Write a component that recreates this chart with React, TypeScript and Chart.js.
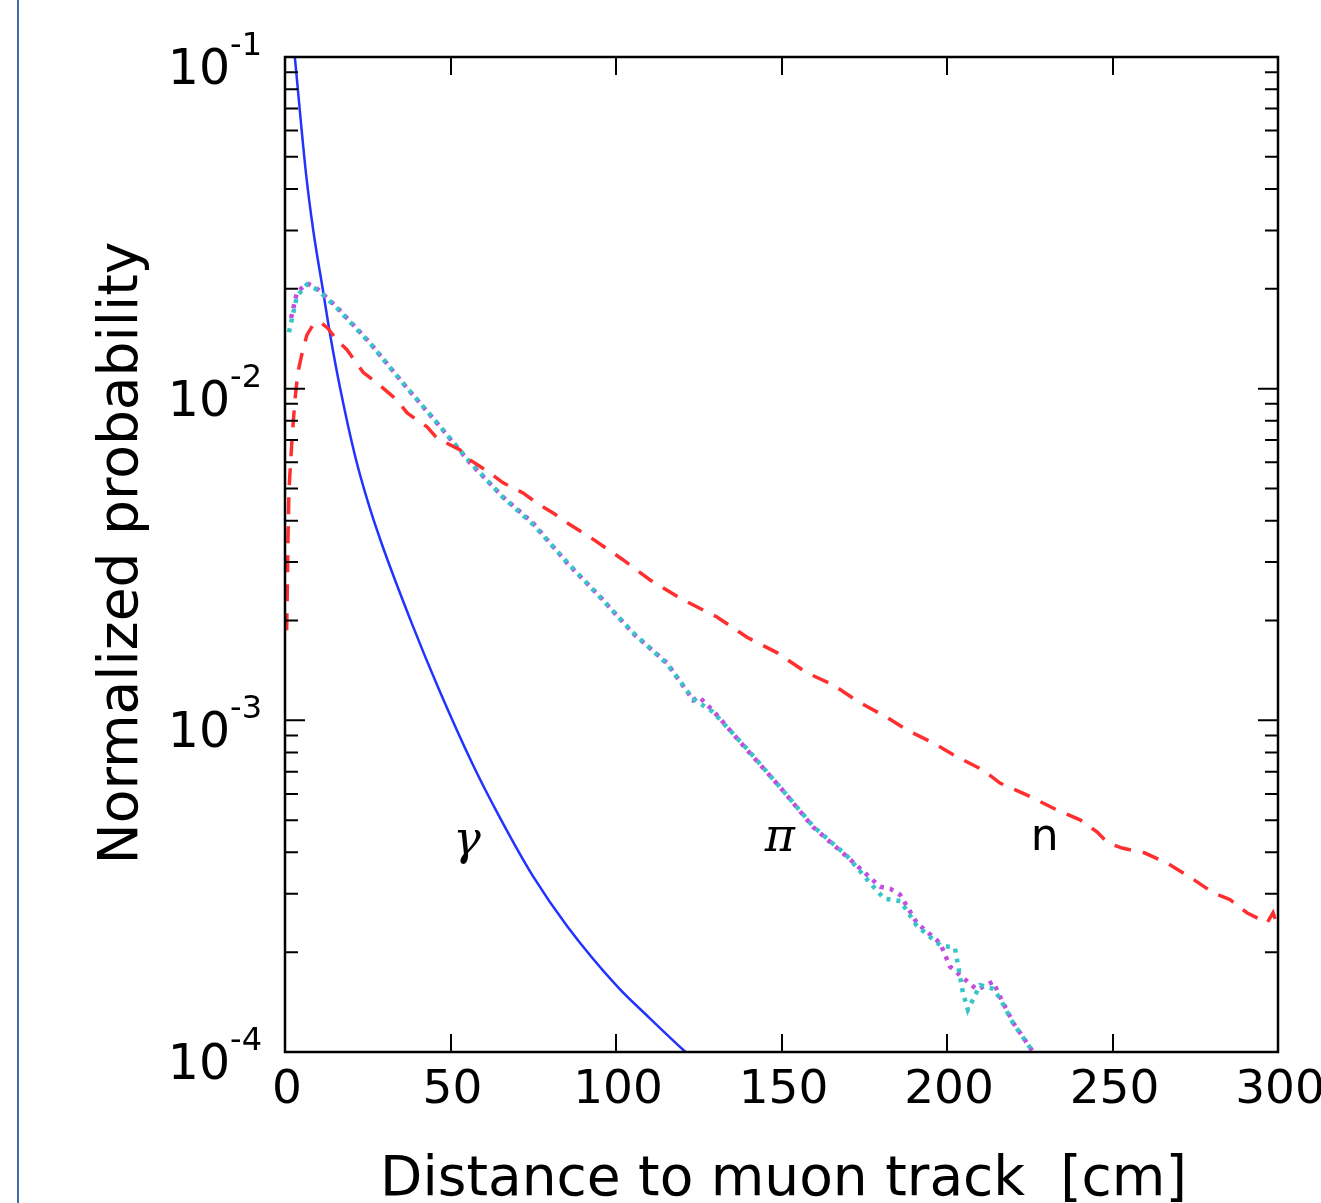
import React, { useEffect, useRef } from 'react';
import { Chart, registerables } from 'chart.js';

Chart.register(...registerables);

// ---- data ----
const gammaX = [1, 3, 6.3, 8.5, 11.5, 13.6, 16.6, 21.1, 25, 29.3, 38.4, 46.2, 56.8, 65, 74.9, 85.2, 100.3, 110, 121, 124];
const gammaY = [0.16, 0.0993, 0.045, 0.0302, 0.0197, 0.01462, 0.0101, 0.00631, 0.00457, 0.00339, 0.00195, 0.00126, 0.000733, 0.000507, 0.000339, 0.00024, 0.000158, 0.000127, 0.0001, 0.000094];

const piMagX = [1.5, 3.6, 6.6, 10, 15.7, 25.7, 35.6, 45.9, 55.9, 65.9, 74.9, 85.2, 95.2, 105.1, 115.4, 123.3, 125, 129.3, 139.6, 149.5, 159.5, 169.8, 179.8, 183, 185.8, 190.9, 197.9, 200.9, 209.1, 213.9, 216, 219.9, 226];
const piMagY = [0.0158, 0.0195, 0.0208, 0.0199, 0.0176, 0.01374, 0.0104, 0.00788, 0.00597, 0.00471, 0.00394, 0.00298, 0.00236, 0.00183, 0.00149, 0.00115, 0.00118, 0.00107, 0.000814, 0.00063, 0.000477, 0.000388, 0.000315, 0.00031, 0.000298, 0.000245, 0.000213, 0.000181, 0.000154, 0.000163, 0.000147, 0.000123, 0.0001];

const piCyanX = [1.2, 3.6, 6.6, 10, 15.7, 25.7, 35.6, 45.9, 55.9, 65.9, 74.9, 85.2, 95.2, 105.1, 115.4, 123.3, 129.3, 139.6, 149.5, 159.5, 169.8, 176, 181, 186, 190.9, 197.9, 202.4, 204.8, 206.3, 210, 214, 216, 220, 226];
const piCyanY = [0.0148, 0.019, 0.0206, 0.0198, 0.0175, 0.0137, 0.0104, 0.0079, 0.006, 0.0047, 0.0039, 0.003, 0.00235, 0.00184, 0.00148, 0.00116, 0.00106, 0.00082, 0.00063, 0.00048, 0.00039, 0.00033, 0.00029, 0.000285, 0.00024, 0.00021, 0.000206, 0.000151, 0.000134, 0.000159, 0.000155, 0.000145, 0.000122, 0.0001];

const neutronX = [0.5, 0.7, 0.9, 1.2, 2.1, 3.0, 3.9, 5.1, 6.6, 8.5, 10.6, 13, 15.7, 18.7, 23.6, 27.8, 33.8, 36.9, 42.9, 45.9, 52.9, 55.9, 61.9, 65.9, 71.9, 76.1, 81, 85.2, 92.1, 102.1, 110.3, 120.2, 130.5, 139.6, 148.6, 157.7, 165.6, 173.1, 181.9, 187.9, 195.8, 203, 210.9, 216, 224.2, 232, 240.2, 245.3, 248.6, 252.9, 259.8, 266.5, 273.4, 280.4, 285.5, 290.6, 296.7, 298.5, 300.3];
const neutronY = [0.00187, 0.00247, 0.0035, 0.00495, 0.007, 0.00925, 0.0112, 0.0127, 0.0145, 0.0156, 0.0159, 0.0152, 0.014, 0.0131, 0.0112, 0.0104, 0.00925, 0.00845, 0.00767, 0.0071, 0.00653, 0.0061, 0.00557, 0.0052, 0.00485, 0.00452, 0.00422, 0.00394, 0.00357, 0.00305, 0.00265, 0.00231, 0.00205, 0.00178, 0.0016, 0.00139, 0.00128, 0.00114, 0.00102, 0.000935, 0.000855, 0.000776, 0.000708, 0.000647, 0.000595, 0.000544, 0.000501, 0.000461, 0.000427, 0.000412, 0.000398, 0.000371, 0.000337, 0.000302, 0.000288, 0.000263, 0.000245, 0.000263, 0.000233];

const xTickValues = [0, 50, 100, 150, 200, 250, 300];
const yMajorExponents = [-1, -2, -3, -4];
const curveLabels = ['γ', 'π', 'n'];
const curveLabelX = [55, 149.5, 229.5];
const curveLabelY = [0.00043, 0.00044, 0.00044];

const xTitle = 'Distance to muon track  [cm]';
const yTitle = 'Normalized probability';

function pts(xs: number[], ys: number[]) {
  return xs.map((x, i) => ({ x, y: ys[i] }));
}

const decorPlugin = {
  id: 'decor',
  afterDraw(chart: any) {
    const { ctx, chartArea: a, scales } = chart;
    const xs = scales.x;
    const ys = scales.y;
    ctx.save();
    ctx.strokeStyle = '#000';
    ctx.fillStyle = '#000';
    ctx.lineWidth = 2.5;
    ctx.lineCap = 'butt';
    ctx.setLineDash([]);
    // frame
    ctx.strokeRect(a.left, a.top, a.right - a.left, a.bottom - a.top);

    ctx.lineWidth = 2;
    const majorLen = 18;
    const minorLen = 13;
    // x major ticks, inward top and bottom
    xTickValues.forEach((v) => {
      const px = Math.round(xs.getPixelForValue(v));
      ctx.beginPath();
      ctx.moveTo(px, a.bottom);
      ctx.lineTo(px, a.bottom - majorLen);
      ctx.moveTo(px, a.top);
      ctx.lineTo(px, a.top + majorLen);
      ctx.stroke();
    });
    // y major ticks
    yMajorExponents.forEach((e) => {
      const py = ys.getPixelForValue(Math.pow(10, e));
      ctx.beginPath();
      ctx.moveTo(a.left, py);
      ctx.lineTo(a.left + majorLen + 2, py);
      ctx.moveTo(a.right, py);
      ctx.lineTo(a.right - majorLen - 2, py);
      ctx.stroke();
    });
    // y minor ticks
    for (let e = -4; e <= -2; e++) {
      for (let m = 2; m <= 9; m++) {
        const py = ys.getPixelForValue(m * Math.pow(10, e));
        ctx.beginPath();
        ctx.moveTo(a.left, py);
        ctx.lineTo(a.left + minorLen, py);
        ctx.moveTo(a.right, py);
        ctx.lineTo(a.right - minorLen, py);
        ctx.stroke();
      }
    }

    // x tick labels
    ctx.font = '47px "DejaVu Sans"';
    ctx.textAlign = 'center';
    ctx.textBaseline = 'alphabetic';
    xTickValues.forEach((v) => {
      const px = xs.getPixelForValue(v);
      ctx.fillText(String(v), px + 2, a.bottom + 51);
    });

    // y tick labels 10^e
    yMajorExponents.forEach((e) => {
      const py = ys.getPixelForValue(Math.pow(10, e));
      ctx.font = '32px "DejaVu Sans"';
      const sup = String(e);
      const wSup = ctx.measureText(sup).width;
      ctx.font = '49px "DejaVu Sans"';
      const base = '10';
      const wBase = ctx.measureText(base).width;
      const right = a.left - 23;
      ctx.textAlign = 'left';
      ctx.fillText(base, right - wSup - wBase, py + 27);
      ctx.font = '32px "DejaVu Sans"';
      ctx.fillText(sup, right - wSup, py - 2);
    });

    // axis titles
    ctx.font = '55px "DejaVu Sans"';
    ctx.textAlign = 'center';
    ctx.fillText(xTitle, (a.left + a.right) / 2 + 2, a.bottom + 143);
    ctx.save();
    ctx.translate(137, 553);
    ctx.rotate(-Math.PI / 2);
    ctx.fillText(yTitle, 0, 0);
    ctx.restore();

    // curve labels
    curveLabels.forEach((t, i) => {
      const px = xs.getPixelForValue(curveLabelX[i]);
      const py = ys.getPixelForValue(curveLabelY[i]);
      if (t === 'n') ctx.font = '44px "DejaVu Sans"';
      else ctx.font = 'italic 46px "DejaVu Serif"';
      ctx.textAlign = 'center';
      ctx.textBaseline = 'middle';
      ctx.fillText(t, px, py);
    });
    ctx.restore();
  },
};

export default function App() {
  const ref = useRef<HTMLCanvasElement | null>(null);
  useEffect(() => {
    if (!ref.current) return;
    const chart = new Chart(ref.current, {
      type: 'line',
      data: {
        datasets: [
          {
            label: 'n',
            data: pts(neutronX, neutronY),
            borderColor: '#ff2f2f',
            borderWidth: 3.5,
            borderDash: [17, 12],
            borderCapStyle: 'butt',
            pointRadius: 0,
            tension: 0,
            fill: false,
          },
          {
            label: 'π cyan',
            data: pts(piCyanX, piCyanY),
            borderColor: '#36c6c8',
            borderWidth: 4.5,
            borderDash: [4, 6],
            borderDashOffset: 0,
            pointRadius: 0,
            tension: 0,
            fill: false,
          },
          {
            label: 'π magenta',
            data: pts(piMagX, piMagY),
            borderColor: '#c24ddf',
            borderWidth: 4.5,
            borderDash: [4, 6],
            borderDashOffset: 5,
            pointRadius: 0,
            tension: 0,
            fill: false,
          },
          {
            label: 'γ',
            data: pts(gammaX, gammaY),
            borderColor: '#2233ff',
            borderWidth: 2.5,
            pointRadius: 0,
            cubicInterpolationMode: 'monotone',
            fill: false,
          },
        ],
      },
      options: {
        responsive: false,
        maintainAspectRatio: false,
        animation: false,
        layout: { padding: { left: 285, top: 57, right: 43, bottom: 151 } },
        scales: {
          x: { type: 'linear', min: 0, max: 300, display: false },
          y: { type: 'logarithmic', min: 1e-4, max: 1e-1, display: false },
        },
        plugins: {
          legend: { display: false },
          tooltip: { enabled: false },
        },
      },
      plugins: [decorPlugin],
    } as any);
    return () => chart.destroy();
  }, []);

  return (
    <div style={{ position: 'absolute', left: 0, top: 0, width: 1321, height: 1203, background: '#fff', overflow: 'hidden' }}>
      <div style={{ position: 'absolute', left: 17, top: 0, width: 2, height: 1203, background: '#3f6ea8' }} />
      <canvas ref={ref} width={1321} height={1203} style={{ display: 'block', width: 1321, height: 1203 }} />
    </div>
  );
}
